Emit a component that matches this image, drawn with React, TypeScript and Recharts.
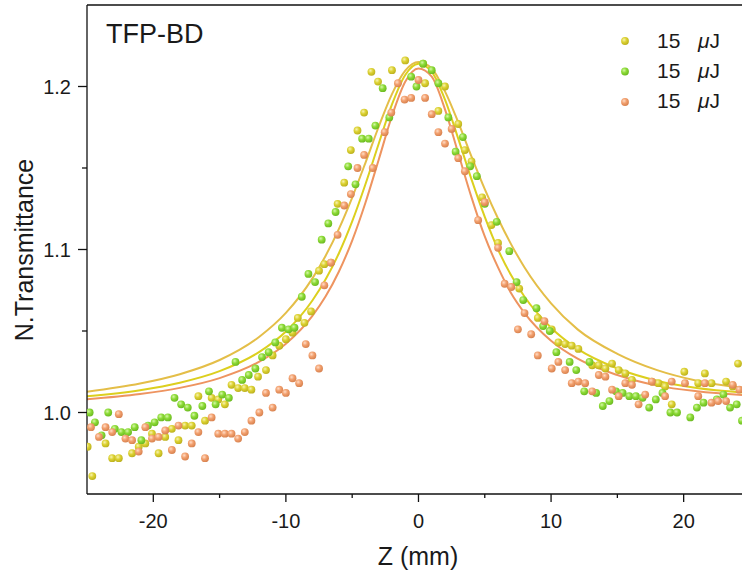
import { ComposedChart, Line, ReferenceLine, Scatter, XAxis, YAxis } from "recharts";

const FONT = "'Liberation Sans', Arial, sans-serif";

// measured points [Z (mm), normalized transmittance]
const yellowPts: [number, number][] = [
  [-24.95, 0.979], [-24.6, 0.961], [-23.6, 0.981], [-23.1, 0.972], [-22.6, 0.972], [-21.6, 0.975],
  [-21.1, 0.979], [-20.6, 0.981], [-20.1, 0.987], [-19.6, 0.975], [-19.1, 0.985], [-18.6, 0.99],
  [-18.1, 0.983], [-17.6, 0.992], [-17.1, 0.992], [-16.6, 1.01], [-16.1, 0.995], [-15.6, 1.009],
  [-15.1, 1.008], [-14.6, 1.005], [-14.1, 1.017], [-13.6, 1.015], [-13.1, 1.015], [-12.6, 1.014],
  [-12.1, 1.022], [-11.5, 1.026], [-11.0, 1.035], [-10.5, 1.041], [-10.0, 1.045], [-9.5, 1.049],
  [-9.1, 1.058], [-8.6, 1.055], [-8.1, 1.062], [-7.5, 1.087], [-7.1, 1.091], [-6.6, 1.092],
  [-6.1, 1.128], [-5.6, 1.141], [-5.1, 1.161], [-4.6, 1.173], [-4.1, 1.184], [-3.55, 1.209],
  [-3.05, 1.203], [-2.0, 1.21], [-1.0, 1.216], [0.35, 1.214], [0.5, 1.202], [1.5, 1.185],
  [2.0, 1.2], [3.0, 1.177], [3.5, 1.161], [4.0, 1.154], [4.8, 1.132], [5.5, 1.115], [6.0, 1.104],
  [7.6, 1.076], [9.0, 1.058], [10.05, 1.051], [10.55, 1.043], [11.06, 1.042], [11.56, 1.041],
  [12.06, 1.039], [13.1, 1.029], [13.6, 1.029], [14.1, 1.027], [14.6, 1.03], [15.1, 1.026],
  [15.6, 1.024], [16.1, 1.02], [17.6, 1.019], [18.1, 1.018], [18.6, 1.016], [19.1, 1.005],
  [20.05, 1.025], [21.1, 1.018], [21.6, 1.024], [22.1, 1.018], [23.2, 1.019], [23.7, 1.016],
  [24.1, 1.03],
];

const greenPts: [number, number][] = [
  [-24.8, 1.0], [-24.4, 0.994], [-23.9, 0.986], [-23.4, 1.0], [-22.9, 0.99], [-22.4, 0.988],
  [-21.9, 0.988], [-21.4, 0.991], [-20.9, 0.983], [-20.4, 0.992], [-19.9, 0.994], [-19.4, 0.997],
  [-18.9, 0.997], [-18.4, 1.009], [-17.9, 1.005], [-17.4, 1.003], [-16.9, 0.998], [-16.3, 1.004],
  [-15.8, 1.013], [-15.3, 1.005], [-14.8, 1.011], [-14.3, 1.009], [-13.8, 1.031], [-13.3, 1.02],
  [-12.8, 1.023], [-12.3, 1.027], [-11.8, 1.034], [-11.3, 1.037], [-10.8, 1.043], [-10.3, 1.052],
  [-9.8, 1.051], [-9.35, 1.052], [-8.8, 1.071], [-8.3, 1.085], [-7.8, 1.08], [-7.3, 1.106],
  [-6.8, 1.116], [-6.25, 1.123], [-5.3, 1.151], [-4.75, 1.14], [-4.25, 1.168], [-3.75, 1.168],
  [-3.25, 1.176], [-2.7, 1.199], [-2.2, 1.181], [-0.55, 1.206], [-0.15, 1.2], [0.35, 1.214],
  [1.0, 1.21], [1.5, 1.202], [2.25, 1.181], [2.8, 1.16], [3.35, 1.169], [3.9, 1.151], [4.4, 1.145],
  [5.0, 1.128], [5.9, 1.117], [6.85, 1.099], [7.4, 1.08], [7.9, 1.069], [8.9, 1.064], [9.4, 1.053],
  [9.9, 1.05], [10.4, 1.037], [11.4, 1.031], [11.9, 1.026], [12.5, 1.013], [12.9, 1.031],
  [13.4, 1.012], [13.9, 1.004], [14.4, 1.007], [14.9, 1.013], [15.4, 1.012], [15.9, 1.01],
  [16.4, 1.01], [16.9, 1.009], [17.4, 1.003], [17.9, 1.008], [18.4, 1.012], [19.0, 1.0],
  [19.5, 1.0], [20.5, 0.997], [21.0, 1.003], [21.5, 1.006], [22.5, 1.008], [23.0, 1.011],
  [23.5, 1.003], [24.0, 1.005], [24.4, 0.995],
];

const orangePts: [number, number][] = [
  [-24.7, 0.991], [-24.1, 0.985], [-23.6, 0.991], [-23.1, 0.988], [-22.6, 0.999], [-22.1, 0.984],
  [-21.6, 0.983], [-21.1, 0.976], [-20.6, 0.991], [-20.1, 0.984], [-19.6, 0.985], [-19.1, 0.989],
  [-18.6, 0.977], [-18.1, 0.992], [-17.6, 0.973], [-17.1, 0.981], [-16.6, 0.988], [-16.1, 0.972],
  [-15.6, 0.997], [-15.1, 0.987], [-14.6, 0.987], [-14.1, 0.987], [-13.6, 0.984], [-13.1, 0.988],
  [-12.6, 0.995], [-12.0, 1.0], [-11.5, 1.012], [-11.0, 1.003], [-10.5, 1.014], [-10.0, 1.012],
  [-9.5, 1.021], [-9.0, 1.018], [-8.5, 1.042], [-8.0, 1.035], [-7.5, 1.027], [-7.1, 1.078],
  [-6.6, 1.092], [-6.1, 1.109], [-5.6, 1.127], [-5.1, 1.134], [-4.6, 1.15], [-4.1, 1.158],
  [-3.45, 1.15], [-2.55, 1.172], [-2.05, 1.184], [-1.55, 1.202], [-1.05, 1.192], [-0.55, 1.193],
  [0.0, 1.204], [0.5, 1.193], [1.0, 1.183], [1.5, 1.172], [2.0, 1.165], [2.5, 1.174], [3.0, 1.156],
  [3.5, 1.148], [4.5, 1.118], [5.0, 1.129], [6.0, 1.101], [6.5, 1.079], [7.0, 1.077], [7.5, 1.051],
  [8.0, 1.061], [8.5, 1.048], [9.0, 1.035], [9.5, 1.056], [10.05, 1.027], [10.55, 1.031],
  [11.06, 1.026], [11.56, 1.018], [12.06, 1.019], [12.57, 1.018], [13.1, 1.013], [13.6, 1.023],
  [14.1, 1.022], [14.6, 1.014], [15.1, 1.01], [15.6, 1.018], [16.1, 1.017], [16.6, 1.005],
  [17.1, 1.011], [17.6, 1.019], [18.6, 1.01], [19.1, 1.019], [20.1, 1.018], [21.1, 1.01],
  [21.6, 1.018], [22.1, 1.006], [22.6, 1.007], [23.2, 1.007], [23.7, 1.017], [24.2, 1.014],
];

// fitted curves
const fitGold: [number, number][] = [
  [-25, 1.0128], [-21, 1.0178], [-18, 1.0235], [-15, 1.0322], [-12, 1.0465], [-10, 1.0611],
  [-8, 1.0823], [-7, 1.0962], [-6, 1.1127], [-5, 1.1319], [-4, 1.1532], [-3, 1.1753], [-2, 1.1953],
  [-1, 1.2097], [0, 1.215], [1, 1.211], [2, 1.197], [3, 1.178], [4, 1.157], [5, 1.137], [6, 1.119],
  [7, 1.103], [8, 1.089], [10, 1.067], [12, 1.051], [15, 1.036], [18, 1.026], [21, 1.0195], [25, 1.0145],
];

const fitYellow: [number, number][] = [
  [-25, 1.0099], [-21, 1.0137], [-18, 1.0183], [-15, 1.0254], [-12, 1.0372], [-10, 1.0497],
  [-8, 1.0687], [-7, 1.0817], [-6, 1.0977], [-5, 1.1172], [-4, 1.14], [-3, 1.1649], [-2, 1.189],
  [-1, 1.2071], [0, 1.214], [1, 1.209], [2, 1.192], [3, 1.168], [4, 1.143], [5, 1.12], [6, 1.1],
  [7, 1.084], [8, 1.071], [10, 1.052], [12, 1.039], [15, 1.027], [18, 1.0195], [21, 1.015], [25, 1.012],
];

const fitOrange: [number, number][] = [
  [-25, 1.0081], [-21, 1.0113], [-18, 1.0151], [-15, 1.0211], [-12, 1.0312], [-10, 1.0422],
  [-8, 1.0593], [-7, 1.0713], [-6, 1.0865], [-5, 1.1055], [-4, 1.1287], [-3, 1.1551], [-2, 1.1819],
  [-1, 1.2029], [0, 1.211], [1, 1.206], [2, 1.186], [3, 1.159], [4, 1.132], [5, 1.108], [6, 1.089],
  [7, 1.073], [8, 1.061], [10, 1.044], [12, 1.033], [15, 1.023], [18, 1.0165], [21, 1.013], [25, 1.0105],
];

const xTicks = [-20, -15, -10, -5, 0, 5, 10, 15, 20];
const yTicks = [1.0, 1.05, 1.1, 1.15, 1.2];
const legendLabels = ["15", "15", "15"];

const toRows = (pts: [number, number][]) => pts.map(([z, t]) => ({ z, t }));

const balls = [
  { id: "ballY", light: "#f8f3b0", mid: "#dcd232", dark: "#b9ae1c" },
  { id: "ballG", light: "#d6f7a8", mid: "#8cdb36", dark: "#68b61f" },
  { id: "ballO", light: "#ffdcc6", mid: "#f2a06e", dark: "#d57f4c" },
];

const ball = (id: string) => (p: any) => <circle cx={p.cx} cy={p.cy} r={3.9} fill={`url(#${id})`} />;

function XTick(props: any) {
  const { x, y, payload } = props;
  const major = payload.value % 10 === 0;
  return (
    <g>
      <line x1={x} y1={y} x2={x} y2={y + (major ? 8 : 4)} stroke="#111" strokeWidth={1.3} />
      {major && (
        <text x={x} y={y + 34} textAnchor="middle" fontSize={20} fontFamily={FONT} fill="#1a1a1a">
          {payload.value}
        </text>
      )}
    </g>
  );
}

function YTick(props: any) {
  const { x, y, payload } = props;
  const v = payload.value as number;
  const major = Math.abs(v * 10 - Math.round(v * 10)) < 1e-6;
  return (
    <g>
      <line x1={x} y1={y} x2={x - (major ? 9 : 5)} y2={y} stroke="#111" strokeWidth={1.3} />
      {major && (
        <text x={x - 16} y={y + 7} textAnchor="end" fontSize={20} fontFamily={FONT} fill="#1a1a1a">
          {v.toFixed(1)}
        </text>
      )}
    </g>
  );
}

export default function App() {
  return (
    <div style={{ position: "absolute", left: 0, top: 0, width: 742, height: 576, background: "#fff", fontFamily: FONT }}>
      <ComposedChart width={742} height={576} margin={{ top: 5, right: 0, bottom: 0, left: 0 }}>
        <XAxis
          dataKey="z"
          type="number"
          domain={[-25, 24.4]}
          allowDataOverflow
          ticks={xTicks}
          tick={<XTick />}
          tickLine={false}
          tickSize={0}
          tickMargin={0}
          height={82}
          axisLine={{ stroke: "#111", strokeWidth: 1.3 }}
        />
        <YAxis
          dataKey="t"
          type="number"
          domain={[0.95, 1.25]}
          allowDataOverflow
          ticks={yTicks}
          tick={<YTick />}
          tickLine={false}
          tickSize={0}
          tickMargin={0}
          width={87}
          axisLine={{ stroke: "#111", strokeWidth: 1.3 }}
        />
        <ReferenceLine y={1.25} stroke="#111" strokeWidth={1.3} />
        <Scatter data={toRows(yellowPts)} dataKey="t" shape={ball("ballY")} isAnimationActive={false} />
        <Scatter data={toRows(greenPts)} dataKey="t" shape={ball("ballG")} isAnimationActive={false} />
        <Scatter data={toRows(orangePts)} dataKey="t" shape={ball("ballO")} isAnimationActive={false} />
        <Line data={toRows(fitGold)} dataKey="t" type="monotone" stroke="#e4be48" strokeWidth={2} dot={false} isAnimationActive={false} />
        <Line data={toRows(fitYellow)} dataKey="t" type="monotone" stroke="#dccf1e" strokeWidth={2} dot={false} isAnimationActive={false} />
        <Line data={toRows(fitOrange)} dataKey="t" type="monotone" stroke="#ee9460" strokeWidth={2} dot={false} isAnimationActive={false} />
      </ComposedChart>
      <svg width={742} height={576} style={{ position: "absolute", left: 0, top: 0, pointerEvents: "none" }}>
        <defs>
          {balls.map((b) => (
            <radialGradient key={b.id} id={b.id} cx="38%" cy="35%" r="70%">
              <stop offset="0%" stopColor={b.light} />
              <stop offset="45%" stopColor={b.mid} />
              <stop offset="100%" stopColor={b.dark} />
            </radialGradient>
          ))}
        </defs>
        <text x={106} y={43} fontSize={27} fontFamily={FONT} fill="#1a1a1a">TFP-BD</text>
        <text transform="translate(33,250) rotate(-90)" textAnchor="middle" fontSize={25} fontFamily={FONT} fill="#1a1a1a">
          N.Transmittance
        </text>
        <text x={418} y={565} textAnchor="middle" fontSize={25} fontFamily={FONT} fill="#1a1a1a">Z (mm)</text>
        {legendLabels.map((label, i) => (
          <g key={i}>
            <circle cx={625} cy={41 + i * 30.5} r={3.9} fill={`url(#${balls[i].id})`} />
            <text x={657} y={48.3 + i * 30} fontSize={21} fontFamily={FONT} fill="#1a1a1a">
              {label}
              <tspan x={698} fontStyle="italic">μ</tspan>
              <tspan>J</tspan>
            </text>
          </g>
        ))}
      </svg>
    </div>
  );
}
